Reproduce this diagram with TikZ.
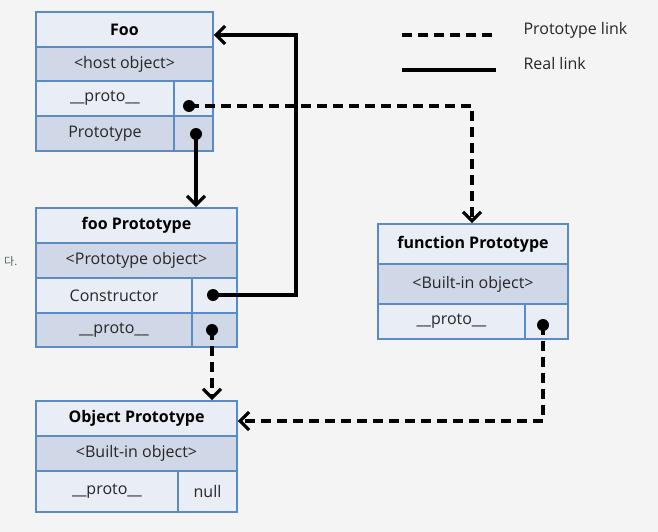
\documentclass[tikz,border=0pt]{standalone}
\usepackage{fontspec}
\setmainfont{Open Sans}
\newfontfamily\cjk{Noto Sans CJK KR}
\usetikzlibrary{arrows.meta}
\definecolor{bg}{HTML}{F4F4F4}
\definecolor{lightc}{HTML}{E9EDF5}
\definecolor{darkc}{HTML}{D0D7E7}
\definecolor{bord}{HTML}{5B8BC6}
\definecolor{kor}{HTML}{4A6658}
\tikzset{
  cell/.style={draw=bord, line width=1.8pt, inner sep=0pt, font=\fontsize{16}{18}\selectfont, text=black!85},
  lc/.style={cell, fill=lightc},
  dc/.style={cell, fill=darkc},
  ttl/.style={font=\fontsize{16}{18}\selectfont\bfseries, text=black},
  link/.style={line width=3.6pt, black},
  plink/.style={link, dash pattern=on 10pt off 6pt},
  tip/.style={-{Straight Barb[length=9pt, width=18pt, line width=3.2pt]}},
  dot/.style={circle, fill=black, inner sep=0pt, minimum size=12pt},
  lbl/.style={anchor=west, font=\fontsize{16}{18}\selectfont, text=black!85}
}
\begin{document}
\begin{tikzpicture}[x=1pt, y=-1pt]
\fill[bg] (0,0) rectangle (658,532);
\useasboundingbox (0,0) rectangle (658,532);
% Foo
\node[lc, minimum width=177pt, minimum height=35pt, ttl] (fooT) at (124.5,29.5) {Foo};
\node[dc, minimum width=177pt, minimum height=34pt] (fooH) at (124.5,64) {<host object>};
\node[lc, minimum width=138pt, minimum height=35pt] (fooA) at (105,98.5) {\_\_proto\_\_};
\node[lc, minimum width=39pt, minimum height=35pt] (fooAd) at (193.5,98.5) {};
\node[dc, minimum width=138pt, minimum height=35pt] (fooB) at (105,133.5) {Prototype};
\node[dc, minimum width=39pt, minimum height=35pt] (fooBd) at (193.5,133.5) {};
% foo Prototype
\node[lc, minimum width=201pt, minimum height=35pt, ttl] (fpT) at (136.5,225.5) {foo Prototype};
\node[dc, minimum width=201pt, minimum height=35pt] (fpH) at (136.5,260.5) {<Prototype object>};
\node[lc, minimum width=156pt, minimum height=35pt] (fpA) at (114,295.5) {Constructor};
\node[lc, minimum width=45pt, minimum height=35pt] (fpAd) at (214.5,295.5) {};
\node[dc, minimum width=156pt, minimum height=34pt] (fpB) at (114,330) {\_\_proto\_\_};
\node[dc, minimum width=45pt, minimum height=34pt] (fpBd) at (214.5,330) {};
% Object Prototype
\node[lc, minimum width=201pt, minimum height=35pt, ttl] (opT) at (136.5,418.5) {Object Prototype};
\node[dc, minimum width=201pt, minimum height=35pt] (opH) at (136.5,453.5) {<Built-in object>};
\node[lc, minimum width=142pt, minimum height=41pt] (opA) at (107,491.5) {\_\_proto\_\_};
\node[lc, minimum width=59pt, minimum height=41pt] (opAd) at (207.5,491.5) {null};
% function Prototype
\node[lc, minimum width=190pt, minimum height=40pt, ttl] (fnT) at (473,244) {function Prototype};
\node[dc, minimum width=190pt, minimum height=40pt] (fnH) at (473,284) {<Built-in object>};
\node[lc, minimum width=147pt, minimum height=35pt] (fnA) at (451.5,321.5) {\_\_proto\_\_};
\node[lc, minimum width=43pt, minimum height=35pt] (fnAd) at (546.5,321.5) {};
% dots
\node[dot] (d1) at (189,106) {};
\node[dot] (d2) at (196,134) {};
\node[dot] (d3) at (213,295) {};
\node[dot] (d4) at (212,330) {};
\node[dot] (d5) at (543,325) {};
% links
\draw[plink, tip] (d1.center) -| (fnT.north -| 472,0);
\draw[link, tip] (d2.center) -- (fpT.north -| d2);
\draw[link, tip] (d3.center) -- (296,295) -- (296,35) -- (fooT.east |- 0,35);
\draw[plink, tip] (d4.center) -- (opT.north -| d4);
\draw[plink, tip] (d5.center) -- (543,421) -- (opT.east |- 0,421);
% legend
\coordinate (la) at (402,35);
\coordinate (lb) at (495,35);
\coordinate (lc1) at (402,70);
\coordinate (ld) at (496,70);
\draw[plink] (la) -- (lb);
\draw[link] (lc1) -- (ld);
\node[lbl] (t1) at (520,30) {Prototype link};
\node[lbl] (t2) at (520,64) {Real link};
\node[anchor=west, inner sep=0pt, text=kor, font=\cjk\fontsize{11}{12}\selectfont] (k) at (4,261) {다.};
\end{tikzpicture}
\end{document}
